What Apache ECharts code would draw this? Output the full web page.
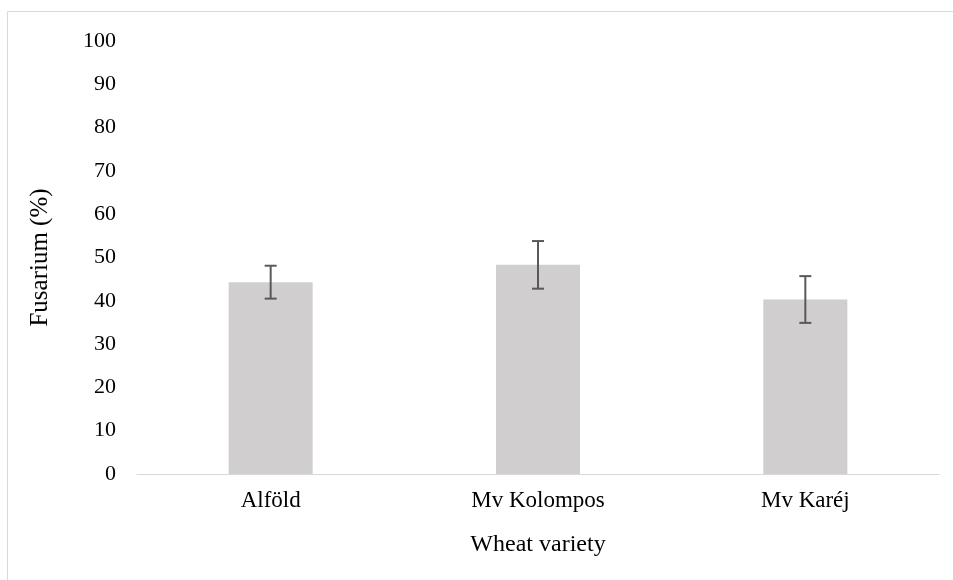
<!DOCTYPE html>
<html>
<head>
<meta charset="utf-8">
<script src="https://cdn.jsdelivr.net/npm/echarts@6/dist/echarts.min.js"></script>
<style>html,body{margin:0;padding:0;background:#fff}#c{width:953px;height:580px}</style>
</head>
<body>
<div id="c"></div>
<script>
const categories = ['Alföld', 'Mv Kolompos', 'Mv Karéj'];
const means = [44.3, 48.3, 40.3];
const errors = [3.8, 5.5, 5.4];
const yTicks = { min: 0, max: 100, interval: 10 };

const chart = echarts.init(document.getElementById('c'));
const font = 'Liberation Serif, Times New Roman, serif';
chart.setOption({
  animation: false,
  graphic: [{
    type: 'rect', shape: { x: 7.5, y: 11.5, width: 1200, height: 1200 },
    style: { fill: 'none', stroke: '#d9d9d9', lineWidth: 1 }, z: -1
  }],
  grid: { left: 137, right: 14, top: 41, bottom: 106 },
  xAxis: {
    type: 'category', data: categories,
    axisLine: { lineStyle: { color: '#d9d9d9', width: 1 } },
    axisTick: { show: false },
    axisLabel: { color: '#000', fontFamily: font, fontSize: 23, margin: 15 },
    name: 'Wheat variety', nameLocation: 'middle', nameGap: 59,
    nameTextStyle: { color: '#000', fontFamily: font, fontSize: 24 }
  },
  yAxis: {
    type: 'value', min: yTicks.min, max: yTicks.max, interval: yTicks.interval,
    axisLine: { show: false }, axisTick: { show: false },
    splitLine: { show: false },
    axisLabel: { color: '#000', fontFamily: font, fontSize: 22, margin: 21 },
    name: 'Fusarium (%)', nameLocation: 'middle', nameGap: 84,
    nameTextStyle: { color: '#000', fontFamily: font, fontSize: 25 }
  },
  series: [{
    type: 'bar', data: means, barWidth: 84,
    itemStyle: { color: '#d0cece' }
  }, {
    type: 'custom',
    data: means.map((m, i) => [i, m - errors[i], m + errors[i]]),
    renderItem: function (params, api) {
      const lo = api.coord([api.value(0), api.value(1)]);
      const hi = api.coord([api.value(0), api.value(2)]);
      const x = lo[0], hw = 6;
      const st = { stroke: '#595959', lineWidth: 2 };
      return { type: 'group', children: [
        { type: 'line', shape: { x1: x, y1: lo[1], x2: x, y2: hi[1] }, style: st },
        { type: 'line', shape: { x1: x - hw, y1: lo[1], x2: x + hw, y2: lo[1] }, style: st },
        { type: 'line', shape: { x1: x - hw, y1: hi[1], x2: x + hw, y2: hi[1] }, style: st }
      ]};
    },
    z: 10
  }]
});
</script>
</body>
</html>
